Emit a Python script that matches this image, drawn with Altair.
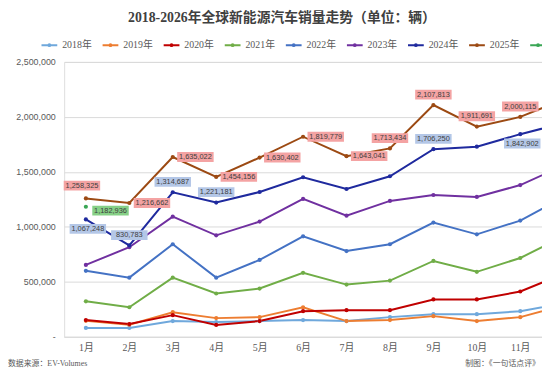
import altair as alt
import pandas as pd

# ---------------- data ----------------
months = list(range(1, 13))
years = ["2018年", "2019年", "2020年", "2021年", "2022年", "2023年", "2024年", "2025年", "2026年"]

s2018 = [81000, 81000, 143000, 134000, 143000, 152000, 143000, 179000, 206000, 206000, 233000, 305000]
s2019 = [145000, 110000, 224000, 170000, 179000, 269000, 143000, 152000, 188000, 143000, 179000, 287000]
s2020 = [152000, 116000, 197000, 108000, 143000, 233000, 242000, 242000, 340000, 340000, 412000, 573000]
s2021 = [323000, 269000, 538000, 394000, 439000, 582000, 475000, 511000, 690000, 591000, 717000, 914000]
s2022 = [600000, 538000, 842000, 538000, 699000, 914000, 780000, 842000, 1039000, 932000, 1057000, 1272000]
s2023 = [654000, 815000, 1093000, 923000, 1048000, 1254000, 1102000, 1236000, 1290000, 1272000, 1380000, 1559000]
s2024 = [1067248, 830783, 1314687, 1221181, 1317000, 1451000, 1344000, 1460000, 1706250, 1729000, 1842902, 1944000]
s2025 = [1258325, 1216662, 1635022, 1454156, 1630402, 1819779, 1643041, 1713434, 2107813, 1911691, 2000115, 2160000]
s2026 = [1182936]

series_values = [s2018, s2019, s2020, s2021, s2022, s2023, s2024, s2025, s2026]
line_colors = ["#6FA8DC", "#ED7D31", "#C00000", "#70AD47", "#4472C4", "#7030A0", "#1F2A9E", "#9C4A13", "#3AA655"]

# data labels
label_years = ["2025年"] * 11 + ["2024年"] * 6 + ["2026年"]
label_months = list(range(1, 12)) + [1, 2, 3, 4, 9, 11] + [1]
label_values = s2025[:11] + [1067248, 830783, 1314687, 1221181, 1706250, 1842902] + [1182936]
label_place = (["upleft"] + ["right"] * 6 + ["above"] * 4
               + ["below", "above", "above", "above", "above", "below"]
               + ["rightdown"])
box_years = ["2024年", "2025年", "2026年"]
box_colors = ["#B4C7E7", "#F4A3A3", "#86D086"]

title_text = "2018-2026年全球新能源汽车销量走势（单位：辆）"
source_text = "数据来源：EV-Volumes"
maker_text = "制图：《一句话点评》"

# ---------------- tables ----------------
rows = []
for y, vals in zip(years, series_values):
    for m, v in zip(months, vals):
        rows.append({"year": y, "month": m, "value": v})
df = pd.DataFrame(rows)

labels_df = pd.DataFrame({"year": label_years, "month": label_months,
                          "value": label_values, "place": label_place})

offsets = {"above": (0, -10.5), "below": (2, 9.5), "right": (23, 0),
           "upleft": (-4, -13), "rightdown": (25, 4)}

serif = "Liberation Serif, Noto Sans CJK SC"
sans = "Liberation Sans, Noto Sans CJK SC"

x_enc = alt.X("month:Q", scale=alt.Scale(domain=[0.5, 11.5], nice=False, zero=False),
              axis=alt.Axis(values=list(range(1, 12)), labelExpr="datum.value + '月'",
                            title=None, grid=False, ticks=False, domain=True,
                            domainColor="#D9D9D9", labelFont=serif, labelFontSize=10,
                            labelColor="#595959", labelPadding=6))
y_enc = alt.Y("value:Q", scale=alt.Scale(domain=[0, 2500000], nice=False),
              axis=alt.Axis(values=[0, 500000, 1000000, 1500000, 2000000, 2500000],
                            labelExpr="datum.value == 0 ? '-' : format(datum.value, ',')",
                            title=None, grid=True, gridColor="#D9D9D9", ticks=False,
                            domain=False, labelFont=sans, labelFontSize=9,
                            labelColor="#595959", labelPadding=9))

legend_symbol = "M-1,0L1,0M-0.12,0a0.12,0.12 0 1,0 0.24,0a0.12,0.12 0 1,0 -0.24,0"

lines = alt.Chart(df).mark_line(
    strokeWidth=2, clip=True,
    point=alt.OverlayMarkDef(size=18, filled=True, clip=True)
).encode(
    x=x_enc, y=y_enc,
    color=alt.Color("year:N", scale=alt.Scale(domain=years, range=line_colors),
                    legend=alt.Legend(orient="none", legendX=-24, legendY=-26,
                                      direction="horizontal", columns=9, title=None,
                                      symbolType=legend_symbol, symbolSize=256,
                                      symbolStrokeWidth=2, labelFont=serif,
                                      labelFontSize=10, labelColor="#595959",
                                      labelOffset=4, columnPadding=7)),
    order=alt.Order("month:Q"),
)

layers = [lines]
box_shape = "M-1,-0.27L1,-0.27L1,0.27L-1,0.27Z"
for place, (dx, dy) in offsets.items():
    sub = labels_df[labels_df["place"] == place]
    box = alt.Chart(sub).mark_point(
        shape=box_shape, size=1369, filled=True, opacity=1, strokeWidth=0,
        xOffset=dx, yOffset=dy
    ).encode(
        x=alt.X("month:Q"), y=alt.Y("value:Q"),
        fill=alt.Fill("year:N", scale=alt.Scale(domain=box_years, range=box_colors), legend=None),
    )
    txt = alt.Chart(sub).mark_text(
        dx=dx, dy=dy, fontSize=7.5, font=sans, color="#404040"
    ).encode(
        x=alt.X("month:Q"), y=alt.Y("value:Q"),
        text=alt.Text("value:Q", format=","),
    )
    layers += [box, txt]

title = alt.Chart(pd.DataFrame({"t": [title_text]})).mark_text(
    font=serif, fontSize=14, fontWeight="bold", color="#404040", align="center", baseline="middle"
).encode(x=alt.value(221), y=alt.value(-45), text="t:N")

source = alt.Chart(pd.DataFrame({"t": [source_text]})).mark_text(
    font=serif, fontSize=8, color="#595959", align="left", baseline="middle"
).encode(x=alt.value(-57), y=alt.value(307), text="t:N")

maker = alt.Chart(pd.DataFrame({"t": [maker_text]})).mark_text(
    font=serif, fontSize=8, color="#595959", align="left", baseline="middle"
).encode(x=alt.value(407), y=alt.value(307), text="t:N")

layers += [title, source, maker]

chart = alt.layer(*layers).resolve_scale(fill="independent").properties(
    width=485, height=279,
    padding={"left": 57, "top": 52, "right": 0, "bottom": 34},
    autosize=alt.AutoSizeParams(type="none"),
).configure_view(stroke=None).configure(background="white")

chart.save("out.html", embed_options={"renderer": "svg", "actions": False})
